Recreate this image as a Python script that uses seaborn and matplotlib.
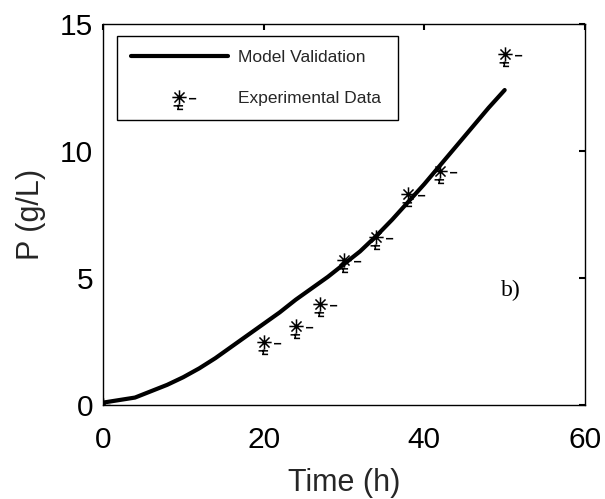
import numpy as np
import pandas as pd
import matplotlib
matplotlib.use("Agg")
import matplotlib.pyplot as plt
from matplotlib.path import Path
import seaborn as sns

# Model simulation of product concentration over time
model_time = [0, 2, 4, 6, 8, 10, 12, 14, 16, 18, 20, 22, 24, 26, 28, 30,
              32, 34, 36, 38, 40, 42, 44, 46, 48, 50]
model_p = [0.1, 0.2, 0.3, 0.55, 0.8, 1.1, 1.45, 1.85, 2.3, 2.75, 3.2, 3.65,
           4.15, 4.6, 5.05, 5.55, 6.05, 6.65, 7.3, 8.0, 8.7, 9.45, 10.2,
           10.95, 11.7, 12.4]

# Measured product concentration
exp_time = [0, 20, 24, 27, 30, 34, 38, 42, 50]
exp_p = [0.0, 2.5, 3.1, 4.0, 5.7, 6.6, 8.3, 9.2, 13.8]

x_ticks = [0, 20, 40, 60]
y_ticks = [0, 5, 10, 15]

sns.set_theme(style="white")
plt.rcParams["font.family"] = ["Liberation Sans", "DejaVu Sans"]

model_df = pd.DataFrame({"Time": model_time, "P": model_p})
exp_df = pd.DataFrame({"Time": exp_time, "P": exp_p})


def asterisk_marker():
    """Asterisk with small error-bar dashes to its right and below."""
    r = 6.0
    d = r / np.sqrt(2)
    segs = [
        ((-r, 0), (r, 0)),
        ((0, -r), (0, r)),
        ((-d, -d), (d, d)),
        ((-d, d), (d, -d)),
        ((8, -1), (14, -1)),
        ((-5, -7), (3, -7)),
        ((-2, -10), (3, -10)),
        ((-1, -6), (-1, -10)),
    ]
    verts, codes = [], []
    for a, b in segs:
        verts += [a, b]
        codes += [Path.MOVETO, Path.LINETO]
    return Path(verts, codes)


fig, ax = plt.subplots(figsize=(6.05, 4.99), dpi=100)
fig.patch.set_facecolor("white")
ax.set_facecolor("white")

sns.lineplot(data=model_df, x="Time", y="P", ax=ax, color="black",
             linewidth=3.0, label="Model Validation")
sns.lineplot(data=exp_df, x="Time", y="P", ax=ax, color="black",
             linestyle="none", marker=asterisk_marker(), markersize=24,
             markerfacecolor="none", markeredgecolor="black",
             markeredgewidth=1.1, label="Experimental Data")

ax.set_xlim(0, 60)
ax.set_ylim(0, 15)
ax.set_xticks(x_ticks)
ax.set_yticks(y_ticks)
ax.set_xlabel("Time (h)", fontsize=22, labelpad=10)
ax.set_ylabel("P (g/L)", fontsize=22, labelpad=10)
ax.tick_params(axis="both", which="major", direction="in", length=4,
               width=1.5, labelsize=21.5, top=True, right=True,
               color="black", labelcolor="black")
ax.tick_params(axis="x", pad=15)
ax.tick_params(axis="y", pad=7)
for s in ax.spines.values():
    s.set_visible(True)
    s.set_color("black")
    s.set_linewidth(1.0)

ax.text(49.5, 4.3, "b)", fontsize=17, family=["Liberation Serif", "DejaVu Serif"],
        color="black")

leg = ax.legend(loc="upper left", bbox_to_anchor=(0.029, 0.969, 0.583, 0.0),
                mode="expand", borderaxespad=0.0, frameon=True,
                fancybox=False, framealpha=1, edgecolor="black",
                handlelength=5.6, handletextpad=0.6, labelspacing=1.5,
                borderpad=0.8,
                prop={"family": ["Liberation Sans"], "size": 12.5})
leg.get_frame().set_linewidth(1.0)

fig.subplots_adjust(left=0.170, right=0.967, bottom=0.188, top=0.952)
fig.savefig("out.png", dpi=100, facecolor="white")
